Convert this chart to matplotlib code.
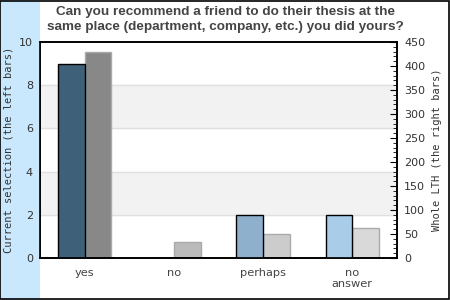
import matplotlib
matplotlib.use("Agg")
import matplotlib.pyplot as plt
from matplotlib.patches import Rectangle
from matplotlib.ticker import MultipleLocator
import numpy as np

categories = ["yes", "no", "perhaps", "no\nanswer"]
current_values = [9, 0, 2, 2]
lth_values = [430, 33, 50, 62]

left_colors = ["#3f6079", "#5a7fa0", "#8fb0cc", "#a9cce8"]
right_colors = ["#888888", "#bbbbbb", "#cccccc", "#d9d9d9"]

fig = plt.figure(figsize=(4.5, 3), dpi=100)
fig.patch.set_facecolor("white")

# light blue strip on the left and frame around the figure
fig.patches.append(Rectangle((0, 0), 40 / 450, 1, transform=fig.transFigure,
                             facecolor="#cae8fd", edgecolor="none", zorder=0))
fig.patches.append(Rectangle((0.001, 0.002), 0.997, 0.995, transform=fig.transFigure,
                             facecolor="none", edgecolor="black", linewidth=1.2, zorder=5))

ax = fig.add_axes([40 / 450, 42 / 300, 357 / 450, 216 / 300])
ax2 = ax.twinx()
ax.set_zorder(ax2.get_zorder() + 1)
ax.patch.set_visible(False)
ax2.patch.set_facecolor("white")

x = np.arange(len(categories))
w = 0.3

ax.set_ylim(0, 10)
ax2.set_ylim(0, 450)

# alternating bands, drawn on the background axes (left scale)
k = 450 / 10
for lo in (2, 6):
    ax2.axhspan(lo * k, (lo + 2) * k, color="#f2f2f2", zorder=0)
for y in (2, 4, 6, 8):
    ax2.axhline(y * k, color="#e0e0e0", linewidth=1, zorder=0.5)

ax.bar(x, current_values, width=w, align="edge", color=left_colors,
       edgecolor="black", linewidth=1, zorder=2)
ax2.bar(x + w, lth_values, width=w, align="edge", color=right_colors,
        edgecolor="#aaaaaa", linewidth=1, zorder=2)
ax.set_xlim(-0.5 + w, 3.5 + w)

ax.set_yticks([0, 2, 4, 6, 8, 10])
ax.tick_params(axis="y", length=0, labelsize=8, labelcolor="#333333", pad=5)
ax.set_xticks(x + w)
ax.set_xticklabels(categories, fontsize=8.2, color="#444444")
ax.tick_params(axis="x", length=0, pad=7)

ax2.yaxis.set_major_locator(MultipleLocator(50))
ax2.yaxis.set_minor_locator(MultipleLocator(10))
ax2.tick_params(axis="y", which="major", direction="in", length=5, labelsize=8,
                labelcolor="#333333", pad=5)
ax2.tick_params(axis="y", which="minor", direction="in", length=3)

ax.set_ylabel("Current selection (the left bars)", family="DejaVu Sans Mono",
              fontsize=7.5, color="#333333")
ax2.set_ylabel("Whole LTH (the right bars)", family="DejaVu Sans Mono",
               fontsize=7.5, color="#333333")
ax.yaxis.set_label_coords(-26 / 357, 0.5)
ax2.yaxis.set_label_coords(1 + 35 / 357, 0.5)

for a in (ax, ax2):
    for s in a.spines.values():
        s.set_linewidth(1.2)

fig.text(0.5, 0.98, "Can you recommend a friend to do their thesis at the\n"
         "same place (department, company, etc.) you did yours?",
         ha="center", va="top", fontsize=9.7, fontweight="bold",
         family="Liberation Sans", color="#444444", linespacing=1.3)

fig.savefig("out.png", dpi=100)
